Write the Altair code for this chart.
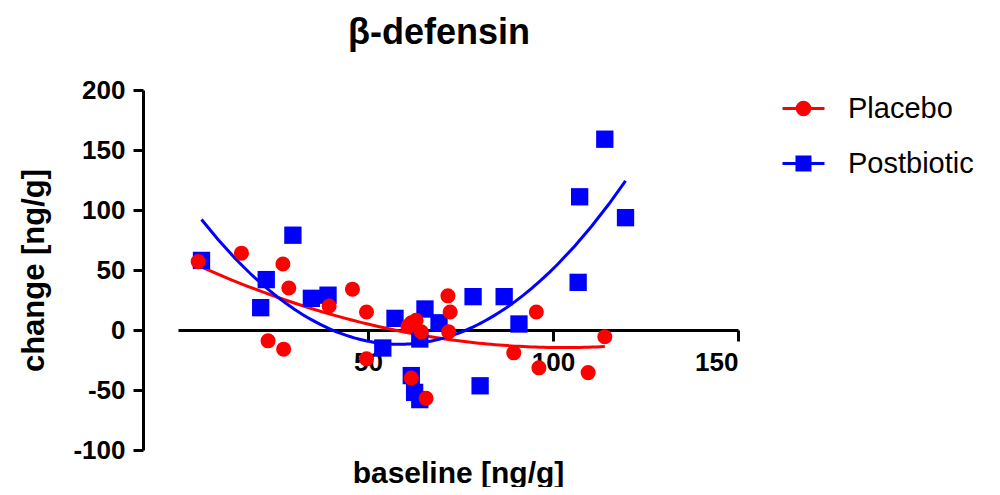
import altair as alt
import pandas as pd

# ---- data ----
groups = ["Placebo", "Postbiotic"]

placebo_x = [4.1, 15.8, 23.0, 27.0, 27.2, 28.6, 39.5, 45.8, 49.6, 49.6, 60.8, 61.7,
             61.7, 63.0, 64.4, 65.7, 71.6, 72.2, 71.8, 89.4, 95.5, 96.2, 109.5, 114.0]
placebo_y = [57, 64, -9, 55, -16, 35, 20, 34, 15, -24, 3, 6,
             -40, 8, -1.5, -57, 28.5, 15, -1.5, -19, 15, -31.5, -35.5, -5.6]

postbiotic_x = [5.0, 21.0, 22.5, 29.7, 34.7, 39.2, 54.0, 57.3, 61.7, 62.6, 64.0,
                64.0, 65.4, 69.2, 78.4, 80.3, 86.8, 90.8, 106.8, 107.2, 114.0, 119.6]
postbiotic_y = [58, 18.6, 42, 79, 26.4, 29, -15, 9.7, -38, -52, -58,
                -7.5, 17.5, 6, 27.8, -46.5, 27.8, 5, 39.7, 111, 159, 93.6]

y_ticks = [-100, -50, 0, 50, 100, 150, 200]
x_ticks = [50, 100, 150]
colors = ["#FF0000", "#0000FF"]

df = pd.concat([
    pd.DataFrame({"baseline": placebo_x, "change": placebo_y, "group": "Placebo"}),
    pd.DataFrame({"baseline": postbiotic_x, "change": postbiotic_y, "group": "Postbiotic"}),
], ignore_index=True)
legend_df = pd.DataFrame({"group": groups})

FONT = "Liberation Sans"

x_enc = alt.X(
    "baseline:Q",
    scale=alt.Scale(domain=[-1.35, 150], nice=False, zero=False),
    axis=alt.Axis(
        values=x_ticks, offset=-120, title="baseline [ng/g]",
        titlePadding=83, titleFontSize=30, titleFont=FONT, titleFontWeight="bold",
        labelFontSize=26, labelFont=FONT, labelFontWeight="bold", labelPadding=8,
        labelExpr="'' + datum.value",
        tickSize=11, tickWidth=3, domainWidth=3, domainColor="black", tickColor="black",
        labelColor="black", titleColor="black", grid=False,
    ),
)
y_enc = alt.Y(
    "change:Q",
    scale=alt.Scale(domain=[-100, 200], nice=False),
    axis=alt.Axis(
        values=y_ticks, offset=35, title="change [ng/g]",
        titlePadding=22, titleFontSize=31, titleFont=FONT, titleFontWeight="bold",
        labelFontSize=26, labelFont=FONT, labelFontWeight="bold", labelPadding=8,
        labelExpr="'' + datum.value",
        tickSize=10, tickWidth=3, domainWidth=3, domainColor="black", tickColor="black",
        labelColor="black", titleColor="black", grid=False,
    ),
)

base = alt.Chart(df)

def fit(group, color):
    return (
        base.transform_filter(alt.datum.group == group)
        .transform_regression("baseline", "change", method="poly", order=2)
        .mark_line(color=color, strokeWidth=3)
        .encode(x=x_enc, y=y_enc)
    )

blue_pts = base.transform_filter(alt.datum.group == "Postbiotic").mark_point(
    shape="square", filled=True, color="#0000FF", size=300, opacity=1
).encode(x=x_enc, y=y_enc)
red_pts = base.transform_filter(alt.datum.group == "Placebo").mark_point(
    shape="circle", filled=True, color="#FF0000", size=227, opacity=1
).encode(x=x_enc, y=y_enc)

circle_path = "M-1,0H1M0.3,0A0.3,0.3,0,1,1,-0.3,0A0.3,0.3,0,1,1,0.3,0Z"
square_path = "M-1,0H1M-0.31,-0.31H0.31V0.31H-0.31Z"

# legend-only layer: its marks sit far off to the left, outside the picture
legend_layer = alt.Chart(legend_df).mark_point(filled=True, size=1764, strokeWidth=3, opacity=1).encode(
    x=alt.value(-3000), y=alt.value(150),
    shape=alt.Shape("group:N", scale=alt.Scale(domain=groups, range=[circle_path, square_path]),
                    legend=alt.Legend(title=None)),
    fill=alt.Fill("group:N", scale=alt.Scale(domain=groups, range=colors), legend=alt.Legend(title=None)),
    stroke=alt.Stroke("group:N", scale=alt.Scale(domain=groups, range=colors), legend=alt.Legend(title=None)),
)

chart = (
    alt.layer(fit("Placebo", "#FF0000"), fit("Postbiotic", "#0000FF"), blue_pts, red_pts, legend_layer)
    .properties(
        width=560, height=360,
        autosize=alt.AutoSizeParams(type="none"),
        padding={"left": 170, "top": 82, "right": 254, "bottom": 37},
        title=alt.TitleParams("β-defensin", font=FONT, fontSize=36, fontWeight="bold",
                              color="black", anchor="middle", frame="group", dx=-19,
                              offset=0, dy=3, baseline="alphabetic"),
    )
    .configure_view(stroke=None)
    .configure_legend(
        orient="none", legendX=603, legendY=-4, padding=0,
        symbolSize=1764, symbolStrokeWidth=3, symbolOpacity=1,
        labelFont=FONT, labelFontSize=29, labelColor="black", labelOffset=22,
        rowPadding=17, labelLimit=400,
    )
)

chart.save("out.html", embed_options={"renderer": "svg", "actions": False})
